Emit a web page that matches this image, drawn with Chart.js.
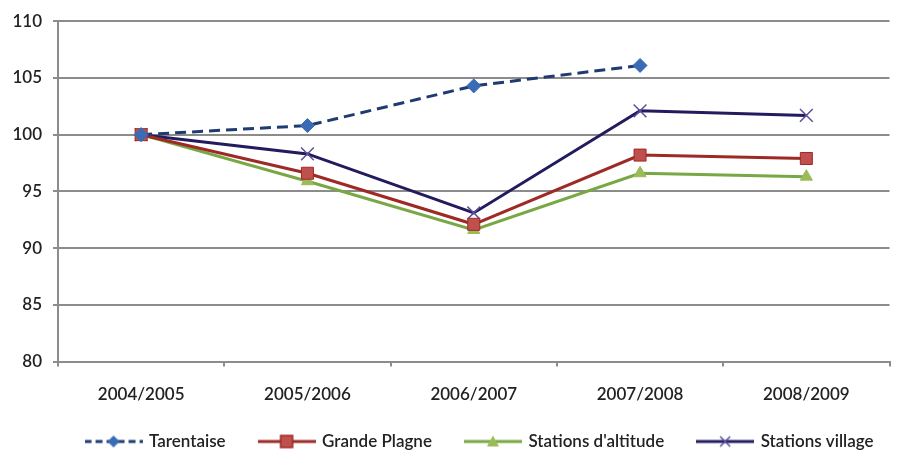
<!DOCTYPE html>
<html>
<head>
<meta charset="utf-8">
<script src="https://cdn.jsdelivr.net/npm/chart.js@4"></script>
<style>
    html, body { margin: 0; padding: 0; background: #fff; }
    #wrap { width: 900px; height: 451px; }
</style>
</head>
<body>
<div id="wrap"><canvas id="chart"></canvas></div>
<script>
const seasons = ['2004/2005', '2005/2006', '2006/2007', '2007/2008', '2008/2009'];
const tarentaise = [100, 100.8, 104.3, 106.1, null];
const grandePlagne = [100, 96.6, 92.1, 98.2, 97.9];
const stationsAltitude = [100, 95.9, 91.6, 96.6, 96.3];
const stationsVillage = [100, 98.3, 93.1, 102.1, 101.7];
const yTicks = [80, 85, 90, 95, 100, 105, 110];

const FONT = 'Lato, "Open Sans", sans-serif';
const LEGEND_HEIGHT = 28;   // hauteur réservée sous les libellés de l'axe x
const LEGEND_Y = 441;       // centre vertical des entrées de légende
const LEGEND_SHIFT = 30;    // décalage horizontal de la légende

// petite image ligne + marqueur pour la légende
function legendSample(color, markerColor, style, dashed) {
    const c = document.createElement('canvas');
    c.width = 58;
    c.height = 16;
    const g = c.getContext('2d');
    g.strokeStyle = color;
    g.lineWidth = 3;
    if (dashed) g.setLineDash([7, 4]);
    g.beginPath();
    g.moveTo(0, 8);
    g.lineTo(58, 8);
    g.stroke();
    g.setLineDash([]);
    g.fillStyle = markerColor;
    g.strokeStyle = markerColor;
    g.lineWidth = 1.5;
    g.beginPath();
    if (style === 'rectRot') {
        g.moveTo(29, 2); g.lineTo(35, 8); g.lineTo(29, 14); g.lineTo(23, 8); g.closePath(); g.fill();
    } else if (style === 'rect') {
        g.rect(23, 2, 12, 12); g.fill();
        g.strokeStyle = color; g.stroke();
    } else if (style === 'triangle') {
        g.moveTo(29, 2); g.lineTo(35, 13); g.lineTo(23, 13); g.closePath(); g.fill();
    } else {
        g.moveTo(24, 3); g.lineTo(34, 13); g.moveTo(34, 3); g.lineTo(24, 13); g.stroke();
    }
    return c;
}

const series = [
    { label: 'Tarentaise', data: tarentaise, color: '#1f3b70', marker: '#3a6bb5', style: 'rectRot', radius: 7, dashed: true },
    { label: 'Grande Plagne', data: grandePlagne, color: '#9e2a26', marker: '#c0504d', style: 'rect', radius: 8.5, dashed: false },
    { label: "Stations d'altitude", data: stationsAltitude, color: '#77a843', marker: '#9bbb59', style: 'triangle', radius: 7, dashed: false },
    { label: 'Stations village', data: stationsVillage, color: '#221c5e', marker: '#5a4f9a', style: 'crossRot', radius: 9, dashed: false }
];

// légende : hauteur réservée fixe, puis boîte replacée (la légende est découpée à sa boîte)
const legendPlacement = {
    id: 'legendPlacement',
    beforeInit(chart) {
        const legend = chart.legend;
        const fit = legend.fit;
        legend.fit = function () {
            fit.call(this);
            this.height = LEGEND_HEIGHT;
        };
    },
    afterLayout(chart) {
        const legend = chart.legend;
        const pad = legend.options.labels.padding;
        legend.top = LEGEND_Y - pad - 8;
        legend.bottom = chart.height;
        legend.left += LEGEND_SHIFT;
        legend.right += LEGEND_SHIFT;
    }
};

const ctx = document.getElementById('chart').getContext('2d');
new Chart(ctx, {
    type: 'line',
    data: {
        labels: seasons,
        datasets: series.map(s => ({
            label: s.label,
            data: s.data,
            borderColor: s.color,
            backgroundColor: s.marker,
            borderWidth: 3,
            borderDash: s.dashed ? [11, 6] : [],
            pointStyle: s.style,
            pointRadius: s.radius,
            pointBackgroundColor: s.marker,
            pointBorderColor: s.style === 'rect' ? s.color : s.marker,
            pointBorderWidth: s.style === 'crossRot' ? 1.5 : 1,
            tension: 0,
            fill: false,
            spanGaps: false,
            legendImg: legendSample(s.color, s.marker, s.style, s.dashed)
        }))
    },
    options: {
        responsive: true,
        maintainAspectRatio: false,
        animation: false,
        layout: {
            padding: { left: 0, right: 0, top: 19, bottom: 0 }
        },
        scales: {
            x: {
                offset: true,
                grid: {
                    offset: true,
                    drawOnChartArea: false,
                    drawTicks: true,
                    tickLength: 5,
                    color: '#8c8c8c',
                    lineWidth: 2
                },
                border: { color: '#8c8c8c', width: 2 },
                ticks: {
                    color: '#222',
                    padding: 18,
                    font: { family: FONT, size: 17, weight: '600' }
                }
            },
            y: {
                min: 80,
                max: 110,
                afterBuildTicks: axis => { axis.ticks = yTicks.map(v => ({ value: v })); },
                afterFit: axis => { axis.width = 58; },
                grid: {
                    color: '#8c8c8c',
                    lineWidth: 2,
                    tickLength: 5
                },
                border: { color: '#8c8c8c', width: 2 },
                ticks: {
                    color: '#222',
                    padding: 11,
                    font: { family: FONT, size: 17, weight: '600' }
                }
            }
        },
        plugins: {
            legend: {
                position: 'bottom',
                labels: {
                    usePointStyle: true,
                    pointStyleWidth: 54,
                    boxHeight: 16,
                    padding: 34,
                    color: '#222',
                    font: { family: FONT, size: 17, weight: '600' },
                    generateLabels: chart => chart.data.datasets.map((d, i) => ({
                        text: d.label,
                        pointStyle: d.legendImg,
                        datasetIndex: i,
                        hidden: false,
                        lineWidth: 0,
                        strokeStyle: 'transparent',
                        fillStyle: 'transparent',
                        fontColor: '#222'
                    }))
                }
            },
            tooltip: { enabled: false }
        }
    },
    plugins: [legendPlacement]
});
</script>
</body>
</html>
